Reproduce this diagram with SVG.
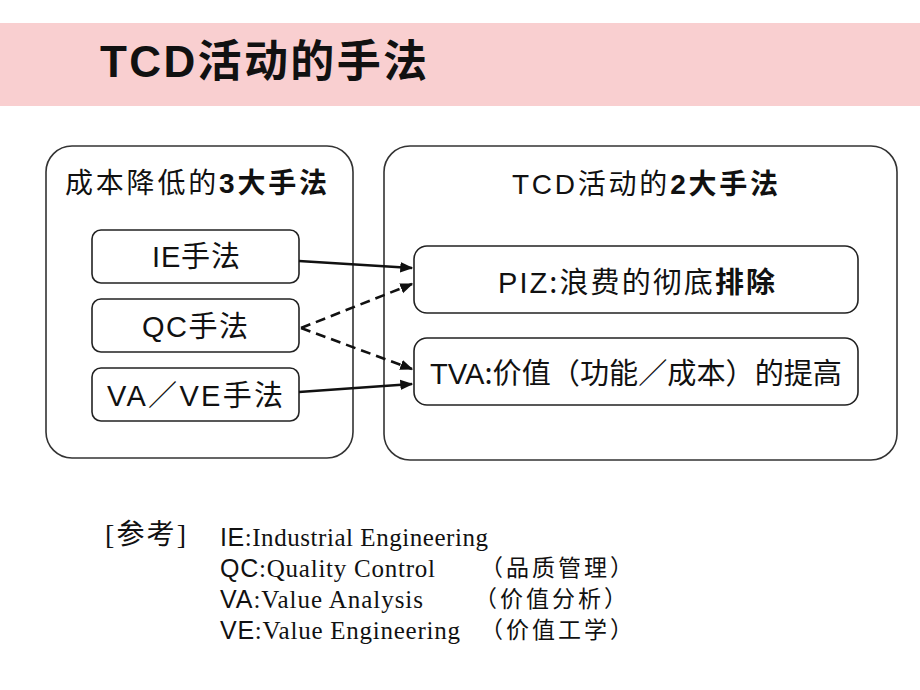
<svg xmlns="http://www.w3.org/2000/svg" width="920" height="690" viewBox="0 0 920 690">
<defs>
<style>
.sans{font-family:"Liberation Sans","Noto Sans CJK SC",sans-serif;fill:#111}
.serif{font-family:"Liberation Serif","Noto Serif CJK SC","Noto Sans CJK SC",serif;fill:#111}
.cjk{font-family:"Noto Sans CJK SC",sans-serif;fill:#111}
.frame{fill:#fff;stroke:#333;stroke-width:1.6}
.box{fill:#fff;stroke:#222;stroke-width:1.6}
.solid{stroke:#111;stroke-width:2.6;fill:none}
.dash{stroke:#111;stroke-width:2.6;fill:none;stroke-dasharray:10 6}
</style>
<marker id="ah" viewBox="0 0 10 10" refX="9" refY="5" markerWidth="5" markerHeight="5" markerUnits="strokeWidth" orient="auto">
<path d="M0,1 L10,5 L0,9 Z" fill="#111"/>
</marker>
</defs>
<rect x="0" y="0" width="920" height="690" fill="#fff"/>
<g id="banner">
<rect x="0" y="23" width="920" height="83" fill="#f9cfd0"/>
<text x="100" y="77" font-size="44" font-weight="bold" class="sans" textLength="327" lengthAdjust="spacing">TCD<tspan class="cjk" font-weight="bold">活动的手法</tspan></text>
</g>
<g id="left-frame">
<rect x="46" y="146" width="307" height="312" rx="26" class="frame"/>
<text x="65" y="193" font-size="28" class="cjk" textLength="262" lengthAdjust="spacing">成本降低的<tspan class="sans" font-weight="bold">3</tspan><tspan font-weight="bold">大手法</tspan></text>
</g>
<g id="right-frame">
<rect x="384" y="146" width="513" height="314" rx="26" class="frame"/>
<text x="512" y="194" font-size="28" class="sans" textLength="266" lengthAdjust="spacing">TCD<tspan class="cjk">活动的</tspan><tspan font-weight="bold">2</tspan><tspan class="cjk" font-weight="bold">大手法</tspan></text>
</g>
<g id="ie">
<rect x="92" y="230" width="207" height="53" rx="9" class="box"/>
<text x="152" y="267" font-size="29" class="sans" textLength="88" lengthAdjust="spacing">IE<tspan class="cjk">手法</tspan></text>
</g>
<g id="qc">
<rect x="92" y="299" width="207" height="53" rx="9" class="box"/>
<text x="142" y="337" font-size="29" class="sans" textLength="106" lengthAdjust="spacing">QC<tspan class="cjk">手法</tspan></text>
</g>
<g id="vave">
<rect x="92" y="368" width="207" height="53" rx="9" class="box"/>
<text x="107" y="406" font-size="29" class="sans" textLength="176" lengthAdjust="spacing">VA<tspan class="cjk">／</tspan>VE<tspan class="cjk">手法</tspan></text>
</g>
<g id="piz">
<rect x="414" y="246" width="444" height="67" rx="13" class="box"/>
<text x="498" y="293" font-size="29" class="sans" textLength="277" lengthAdjust="spacing">PIZ<tspan class="cjk">:浪费的彻底</tspan><tspan class="cjk" font-weight="bold">排除</tspan></text>
</g>
<g id="tva">
<rect x="414" y="338" width="444" height="67" rx="13" class="box"/>
<text x="430" y="384" font-size="29" class="sans" textLength="412" lengthAdjust="spacingAndGlyphs">TVA<tspan class="cjk">:价值（功能／成本）的提高</tspan></text>
</g>
<g id="connectors">
<line x1="299" y1="261" x2="412" y2="268" class="solid" marker-end="url(#ah)"/>
<line x1="301" y1="328" x2="412" y2="284" class="dash" marker-end="url(#ah)"/>
<line x1="301" y1="328" x2="412" y2="369" class="dash" marker-end="url(#ah)"/>
<line x1="299" y1="392" x2="412" y2="384" class="solid" marker-end="url(#ah)"/>
</g>
<g id="reference">
<text x="105" y="544" font-size="28" class="serif" textLength="81" lengthAdjust="spacing">[<tspan class="cjk">参考</tspan>]</text>
<text x="220" y="546" font-size="25" class="serif" textLength="268" lengthAdjust="spacing"><tspan class="sans">IE</tspan>:Industrial Engineering</text>
<text x="220" y="577" font-size="25" class="serif" textLength="215" lengthAdjust="spacing"><tspan class="sans">QC</tspan>:Quality Control</text>
<text x="480" y="576" font-size="23" class="cjk" textLength="153" lengthAdjust="spacing">（品质管理）</text>
<text x="220" y="608" font-size="25" class="serif" textLength="203" lengthAdjust="spacing"><tspan class="sans">VA</tspan>:Value Analysis</text>
<text x="474" y="607" font-size="23" class="cjk" textLength="153" lengthAdjust="spacing">（价值分析）</text>
<text x="220" y="639" font-size="25" class="serif" textLength="240" lengthAdjust="spacing"><tspan class="sans">VE</tspan>:Value Engineering</text>
<text x="480" y="638" font-size="23" class="cjk" textLength="153" lengthAdjust="spacing">（价值工学）</text>
</g>
</svg>
